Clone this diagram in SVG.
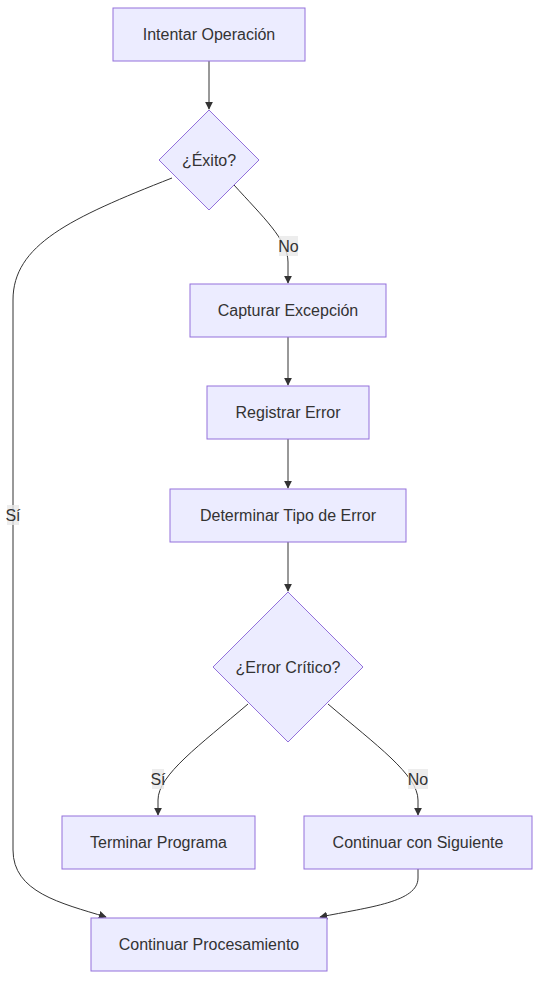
<svg xmlns="http://www.w3.org/2000/svg" width="548" height="994" viewBox="0 0 548 994">
<style>
.node rect,.node polygon{fill:#ECECFF;stroke:#9370DB;stroke-width:1}
text{font-family:"Liberation Sans",Arial,sans-serif;font-size:16px;fill:#333;text-anchor:middle;dominant-baseline:central}
.edge{fill:none;stroke:#333;stroke-width:1}
.lbl rect{fill:#e8e8e8;opacity:0.8}
</style>
<defs>
<marker id="arr" viewBox="0 0 10 10" refX="9" refY="5" markerWidth="8" markerHeight="8" markerUnits="userSpaceOnUse" orient="auto">
<path d="M0,0 L10,5 L0,10 z" fill="#333"/>
</marker>
</defs>
<rect width="548" height="994" fill="#fff"/>
<g id="edges">
<path class="edge" d="M209,61 L209,109" marker-end="url(#arr)"/>
<path class="edge" d="M234,185 C262,216 288,240 288,262 L288,283" marker-end="url(#arr)"/>
<path class="edge" d="M172,178 C70,218 13,245 13,300 L13,850 C13,892 60,903 106,917" marker-end="url(#arr)"/>
<path class="edge" d="M288,337 L288,385" marker-end="url(#arr)"/>
<path class="edge" d="M288,439 L288,488" marker-end="url(#arr)"/>
<path class="edge" d="M288,542 L288,591" marker-end="url(#arr)"/>
<path class="edge" d="M248,704 C200,745 158,775 158,800 L158,815" marker-end="url(#arr)"/>
<path class="edge" d="M328,704 C376,745 418,775 418,800 L418,815" marker-end="url(#arr)"/>
<path class="edge" d="M418,869 L418,878 C418,902 370,907 320,917" marker-end="url(#arr)"/>
<g class="lbl"><rect x="279" y="236" width="19" height="20"/><text x="288.5" y="246">No</text></g>
<g class="lbl"><rect x="7" y="505" width="12" height="20"/><text x="13" y="515">Sí</text></g>
<g class="lbl"><rect x="152" y="769" width="12" height="20"/><text x="158" y="779">Sí</text></g>
<g class="lbl"><rect x="408" y="769" width="20" height="20"/><text x="418" y="779">No</text></g>
</g>
<g id="n1" class="node"><rect x="113" y="8" width="192" height="53"/><text x="209" y="34.5">Intentar Operación</text></g>
<g id="n2" class="node"><polygon points="209,110 259,160 209,210 159,160"/><text x="209" y="160">¿Éxito?</text></g>
<g id="n3" class="node"><rect x="190" y="284" width="196" height="53"/><text x="288" y="310.5">Capturar Excepción</text></g>
<g id="n4" class="node"><rect x="207" y="386" width="162" height="53"/><text x="288" y="412.5">Registrar Error</text></g>
<g id="n5" class="node"><rect x="170" y="489" width="236" height="53"/><text x="288" y="515.5">Determinar Tipo de Error</text></g>
<g id="n6" class="node"><polygon points="288,592 363,667 288,742 213,667"/><text x="288" y="667">¿Error Crítico?</text></g>
<g id="n7" class="node"><rect x="62" y="816" width="193" height="53"/><text x="158.5" y="842.5">Terminar Programa</text></g>
<g id="n8" class="node"><rect x="304" y="816" width="228" height="53"/><text x="418" y="842.5">Continuar con Siguiente</text></g>
<g id="n9" class="node"><rect x="91" y="918" width="236" height="53"/><text x="209" y="944.5">Continuar Procesamiento</text></g>
</svg>
